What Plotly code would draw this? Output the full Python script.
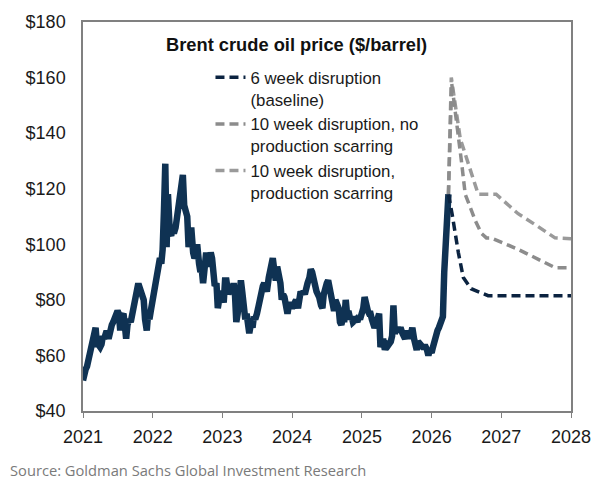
import plotly.graph_objects as go
import pandas as pd

# Historical Brent: approx weekly readings (4 per month, days 1/8/15/22) off the chart
hist_months = pd.date_range("2021-01-01", "2026-03-01", freq="MS")
hist_values = [
    # 2021
    51, 55, 55, 56,   59, 61, 63, 66,   68, 70, 64, 64,   63, 64, 67, 66,
    68, 68, 66, 69,   71, 72, 73, 75,   76, 75, 69, 74,   75, 71, 66, 71,
    73, 72, 75, 78,   80, 83, 85, 85,   83, 82, 80, 73,   69, 75, 73, 76,
    # 2022
    80, 84, 88, 89,   92, 95, 93, 98,   112, 129, 99, 118, 104, 103, 107, 104,
    106, 110, 112, 114, 120, 125, 114, 112, 110, 99, 104, 106, 97, 95, 96, 100,
    93, 90, 91, 86,   92, 97, 92, 95,   97, 95, 90, 85,   86, 77, 80, 83,
    # 2023
    82, 79, 87, 87,   82, 85, 85, 83,   86, 82, 72, 75,   85, 87, 83, 79,
    73, 75, 72, 68,   72, 70, 74, 73,   75, 78, 81, 84,   85, 86, 84, 83,
    88, 90, 94, 95,   90, 87, 92, 90,   86, 80, 82, 81,   78, 75, 78, 79,
    # 2024
    77, 78, 79, 80,   77, 81, 83, 82,   83, 82, 85, 86,   88, 91, 90, 87,
    84, 83, 82, 81,   78, 77, 82, 85,   86, 87, 85, 81,   79, 76, 80, 79,
    77, 72, 71, 73,   73, 80, 75, 76,   73, 74, 72, 73,   73, 72, 74, 73,
    # 2025
    75, 77, 81, 78,   76, 75, 75, 73,   71, 70, 71, 73,   75, 63, 65, 66,
    62, 63, 65, 64,   65, 67, 78, 68,   69, 70, 69, 70,   68, 66, 66, 68,
    68, 66, 68, 70,   66, 63, 62, 65,   64, 64, 63, 63,   63, 62, 60, 62,
    # 2026
    61, 63, 65, 68,   69, 70, 71, 73,   74, 90, 104, 114,
]
hist_end_date = "2026-03-30"
hist_end_value = 118

# Scenario paths
base_dates = ["2026-03-30","2026-04-18","2026-05-21","2026-06-16","2026-07-27","2026-10-24","2028-01-01"]
base_values = [118, 111, 97, 88, 84, 81.5, 81.5]

noscar_dates = ["2026-03-30","2026-04-16","2026-06-06","2026-06-26","2026-08-18","2026-09-18","2026-10-15","2026-11-09","2027-03-30","2027-10-09","2028-01-01"]
noscar_values = [118, 158, 130, 118, 108.5, 104, 102.3, 102.3, 98.2, 91.6, 91.6]

scar_dates = ["2026-03-30","2026-04-14","2026-05-31","2026-09-02","2026-12-05","2027-03-30","2027-07-10","2027-10-09","2028-01-01"]
scar_values = [118, 160, 138, 118, 118, 111, 106.5, 102.3, 102]

legend_names = [
    "6 week disruption<br>(baseline)",
    "10 week disruption, no<br>production scarring",
    "10 week disruption,<br>production scarring",
]
x_ticks = ["2021","2022","2023","2024","2025","2026","2027","2028"]
y_ticks = [40, 60, 80, 100, 120, 140, 160, 180]

hist_dates = []
for m in hist_months:
    for off in (0, 7, 14, 21):
        hist_dates.append(m + pd.Timedelta(days=off))
hist_dates = hist_dates[:len(hist_values)] + [pd.Timestamp(hist_end_date)]
hist_y = hist_values + [hist_end_value]

navy = "#0f3253"
fig = go.Figure()
fig.add_trace(go.Scatter(x=hist_dates, y=hist_y, mode="lines",
                         line=dict(color=navy, width=6.5), showlegend=False, hoverinfo="skip"))
fig.add_trace(go.Scatter(x=scar_dates, y=scar_values, mode="lines", name=legend_names[2],
                         line=dict(color="#9a9a9a", width=3.5, dash="9px,5px"), legendrank=3))
fig.add_trace(go.Scatter(x=noscar_dates, y=noscar_values, mode="lines", name=legend_names[1],
                         line=dict(color="#8c8c8c", width=3.5, dash="9px,5px"), legendrank=2))
fig.add_trace(go.Scatter(x=base_dates, y=base_values, mode="lines", name=legend_names[0],
                         line=dict(color="#0b2340", width=3.5, dash="9px,5px"), legendrank=1))

axis_font = dict(family="Liberation Sans, Arial, sans-serif", size=18, color="#1a1a1a")
fig.update_layout(
    width=603, height=500,
    margin=dict(l=83, r=30, t=20, b=89),
    paper_bgcolor="white", plot_bgcolor="white",
    font=dict(family="Liberation Sans, Arial, sans-serif", color="#1a1a1a"),
    xaxis=dict(type="date", range=["2021-01-01", "2028-01-01"],
               tickvals=[t + "-01-01" for t in x_ticks], ticktext=x_ticks,
               showgrid=False, zeroline=False, showline=True, mirror=True,
               linecolor="#808080", linewidth=1.5, ticks="outside", ticklen=5,
               tickcolor="#808080", tickfont=axis_font, ticklabelstandoff=4),
    yaxis=dict(range=[40, 180], tickvals=y_ticks, ticktext=["$" + str(v) for v in y_ticks],
               showgrid=False, zeroline=False, showline=True, mirror=True,
               linecolor="#808080", linewidth=1.5, ticks="", tickfont=axis_font,
               ticklabelstandoff=12),
    legend=dict(x=(211 - 83) / 490, xanchor="left", y=1 - (58 - 20) / 391, yanchor="top",
                bgcolor="rgba(0,0,0,0)", font=dict(size=16.8, color="#1a1a1a"),
                valign="top", tracegroupgap=0, traceorder="normal"),
    annotations=[
        dict(text="<b>Brent crude oil price ($/barrel)</b>", xref="paper", yref="paper",
             x=(297 - 83) / 490, y=1 - (43 - 20) / 391, xanchor="center", yanchor="middle",
             showarrow=False, font=dict(size=18.3, color="#111111")),
        dict(text="Source: Goldman Sachs Global Investment Research", xref="paper", yref="paper",
             x=(8 - 83) / 490, y=1 - (470 - 20) / 391, xanchor="left", yanchor="middle",
             showarrow=False, font=dict(family="Open Sans, Noto Sans, sans-serif", size=14.7, color="#7a7a7a")),
    ],
)
fig.write_html("out.html")
